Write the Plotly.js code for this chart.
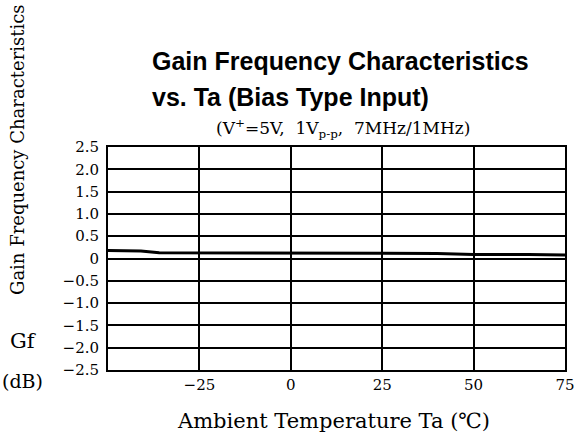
<!DOCTYPE html>
<html>
<head>
<meta charset="utf-8">
<script src="https://cdn.plot.ly/plotly-3.0.1.min.js"></script>
<style>html,body{margin:0;padding:0;background:#fff;}#chart{width:574px;height:439px;}</style>
</head>
<body>
<div id="chart"></div>
<script>
// Data
const temperature = [-50, -45, -41, -36, -25, 0, 25, 40, 50, 65, 75];
const gainDb      = [0.18, 0.18, 0.17, 0.13, 0.13, 0.13, 0.12, 0.11, 0.09, 0.09, 0.08];

const xTickVals  = [-25, 0, 25, 50, 75];
const xTickText  = ['\u221225', '0', '25', '50', '75'];
const yTickVals  = [2.5, 2.0, 1.5, 1.0, 0.5, 0, -0.5, -1.0, -1.5, -2.0, -2.5];
const yTickText  = ['2.5', '2.0', '1.5', '1.0', '0.5', '0', '\u22120.5', '\u22121.0', '\u22121.5', '\u22122.0', '\u22122.5'];

const titleLine1 = 'Gain Frequency Characteristics';
const titleLine2 = 'vs. Ta (Bias Type Input)';
const subTitle   = '(V<sup>+</sup>=5V,  1V<sub>p-p</sub>,  7MHz/1MHz)';
const yTitle     = 'Gain Frequency Characteristics';
const xTitle     = 'Ambient Temperature Ta (\u2103)';

const W = 574, H = 439;
const L = 108, R = 565, T = 147, B = 370;
const px = x => (x - L) / (R - L);
const py = y => (B - y) / (B - T);

const serif = 'DejaVu Serif, Liberation Serif, serif';
const sans = 'Liberation Sans, Arial, sans-serif';

const trace = {
  x: temperature, y: gainDb, type: 'scatter', mode: 'lines',
  line: {color: '#000', width: 3}, hoverinfo: 'skip'
};

const layout = {
  width: W, height: H,
  margin: {l: L, r: W - R, t: T, b: H - B, pad: 0},
  paper_bgcolor: '#fff', plot_bgcolor: '#fff',
  showlegend: false,
  xaxis: {
    range: [-50, 75], tickvals: xTickVals, ticktext: xTickText,
    showgrid: true, gridcolor: '#000', gridwidth: 2,
    showline: true, linecolor: '#000', linewidth: 2, mirror: true,
    zeroline: false, ticks: '', ticklabeloverflow: 'allow',
    tickfont: {family: serif, size: 15, color: '#000'},
    fixedrange: true
  },
  yaxis: {
    range: [-2.5, 2.5], tickvals: yTickVals, ticktext: yTickText,
    showgrid: true, gridcolor: '#000', gridwidth: 2,
    showline: true, linecolor: '#000', linewidth: 2, mirror: true,
    zeroline: false, ticks: '', ticklabelstandoff: 4, ticklabeloverflow: 'allow',
    tickfont: {family: serif, size: 15, color: '#000'},
    fixedrange: true
  },
  annotations: [
    {text: '<b>' + titleLine1 + '</b>', xref: 'paper', yref: 'paper', x: px(150), y: py(61),
     xanchor: 'left', yanchor: 'middle', showarrow: false,
     font: {family: sans, size: 25, color: '#000'}},
    {text: '<b>' + titleLine2 + '</b>', xref: 'paper', yref: 'paper', x: px(150), y: py(97),
     xanchor: 'left', yanchor: 'middle', showarrow: false,
     font: {family: sans, size: 25, color: '#000'}},
    {text: subTitle, xref: 'paper', yref: 'paper', x: px(343), y: py(128),
     xanchor: 'center', yanchor: 'middle', showarrow: false,
     font: {family: serif, size: 17, color: '#000'}},
    {text: yTitle, xref: 'paper', yref: 'paper', x: px(17), y: py(150),
     xanchor: 'center', yanchor: 'middle', textangle: -90, showarrow: false,
     font: {family: serif, size: 18, color: '#000'}},
    {text: 'Gf', xref: 'paper', yref: 'paper', x: px(23), y: py(341),
     xanchor: 'center', yanchor: 'middle', showarrow: false,
     font: {family: serif, size: 21, color: '#000'}},
    {text: '(dB)', xref: 'paper', yref: 'paper', x: px(22), y: py(381),
     xanchor: 'center', yanchor: 'middle', showarrow: false,
     font: {family: serif, size: 19, color: '#000'}},
    {text: xTitle, xref: 'paper', yref: 'paper', x: px(333), y: py(421),
     xanchor: 'center', yanchor: 'middle', showarrow: false,
     font: {family: serif, size: 21, color: '#000'}}
  ]
};

Plotly.newPlot('chart', [trace], layout, {displayModeBar: false, staticPlot: true});
</script>
</body>
</html>
